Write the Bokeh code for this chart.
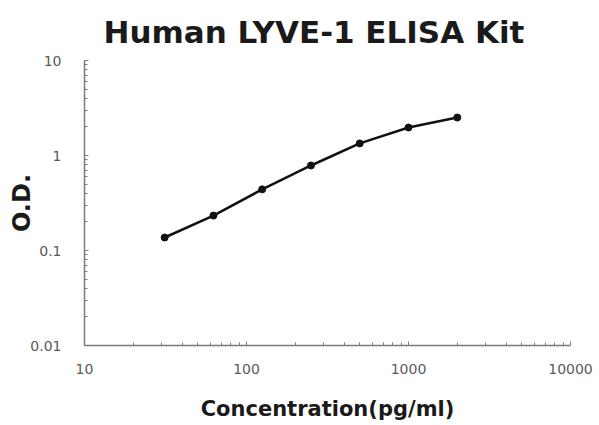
from bokeh.plotting import figure
from bokeh.models import FixedTicker, CustomJSTickFormatter, Range1d, ColumnDataSource
from bokeh.embed import file_html
from bokeh.resources import INLINE

# Data
concentration = [31.25, 62.5, 125, 250, 500, 1000, 2000]
od_values = [0.137, 0.233, 0.44, 0.785, 1.34, 1.97, 2.51]
x_ticks = [10, 100, 1000, 10000]
y_ticks = [0.01, 0.1, 1, 10]

x_minor = [m * d for d in [10, 100, 1000] for m in range(2, 10)]
y_minor = [m * d for d in [0.01, 0.1, 1] for m in range(2, 10)]

p = figure(width=599, height=425, x_axis_type="log", y_axis_type="log",
           x_range=Range1d(10, 10000), y_range=Range1d(0.01, 10),
           output_backend="svg", toolbar_location=None,
           title="Human LYVE-1 ELISA Kit",
           min_border_left=84, min_border_right=29, min_border_bottom=80, min_border_top=60)

p.title.align = "left"
p.title.vertical_align = "middle"
p.title.text_font = "DejaVu Sans"
p.title.text_font_size = "31px"
p.title.text_font_style = "bold"
p.title.text_color = "#1a1a1a"
p.title.standoff = 20
p.title.offset = 19

p.grid.visible = False
p.outline_line_color = None

for ax, ticks, minor in [(p.xaxis[0], x_ticks, x_minor), (p.yaxis[0], y_ticks, y_minor)]:
    ax.ticker = FixedTicker(ticks=ticks, minor_ticks=minor)
    ax.formatter = CustomJSTickFormatter(code="return tick.toString();")
    ax.axis_line_color = "#7a7a7a"
    ax.axis_line_width = 1.5
    ax.major_tick_line_color = "#7a7a7a"
    ax.minor_tick_line_color = "#7a7a7a"
    ax.major_tick_in = 4
    ax.major_tick_out = 0
    ax.minor_tick_in = 3
    ax.minor_tick_out = 0
    ax.major_label_text_font = "DejaVu Sans"
    ax.major_label_text_font_size = "14px"
    ax.major_label_text_color = "#5a5a5a"
    ax.axis_label_text_font = "DejaVu Sans"
    ax.axis_label_text_font_style = "bold"
    ax.axis_label_text_color = "#1a1a1a"

p.xaxis.axis_label = "Concentration(pg/ml)"
p.yaxis.axis_label = "O.D."
p.xaxis.axis_label_text_font_size = "21px"
p.yaxis.axis_label_text_font_size = "24px"
p.xaxis.major_label_standoff = 18
p.yaxis.major_label_standoff = 23
p.xaxis.axis_label_standoff = 20
p.yaxis.axis_label_standoff = -9

src = ColumnDataSource(dict(x=concentration, y=od_values))
p.line("x", "y", source=src, line_color="#111111", line_width=2.5)
p.scatter("x", "y", source=src, size=7, color="#111111")

open("out.html", "w").write(file_html(p, INLINE))
